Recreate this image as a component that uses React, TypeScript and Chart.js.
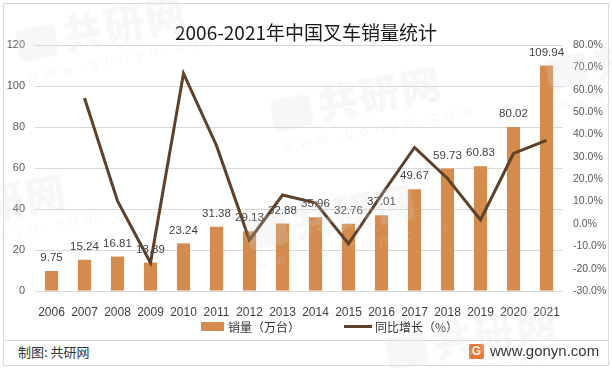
import React, { useEffect, useRef } from "react";
import { Chart, registerables } from "chart.js";
Chart.register(...registerables);

const years = ["2006", "2007", "2008", "2009", "2010", "2011", "2012", "2013", "2014", "2015", "2016", "2017", "2018", "2019", "2020", "2021"];
const sales = [9.75, 15.24, 16.81, 13.89, 23.24, 31.38, 29.13, 32.88, 35.96, 32.76, 37.01, 49.67, 59.73, 60.83, 80.02, 109.94];
const growth = [null, 56.3, 10.3, -17.4, 67.3, 35.0, -7.2, 12.9, 9.4, -8.9, 13.0, 34.2, 20.3, 1.8, 31.5, 37.4];
const leftTicks = { min: 0, max: 120, step: 20 };
const rightTicks = { min: -30, max: 80, step: 10 };

const BAR = "#D38B4E";
const LINE = "#5E4128";
const FONT = "'Noto Sans CJK SC', 'Liberation Sans', sans-serif";
const NUMFONT = "'Liberation Sans', 'DejaVu Sans', sans-serif";
const WM = "rgba(220,220,220,0.22)";

const watermarks = [
  { left: 10, top: 2 },
  { left: 265, top: 72 },
  { left: -110, top: 180 },
  { left: 240, top: 190 },
  { left: 380, top: 310 },
  { left: 540, top: 30 },
];

const labelPlugin = {
  id: "barLabels",
  afterDatasetDraw(chart: any, args: any) {
    const ds = chart.data.datasets[args.index];
    if (ds.type !== "bar") return;
    const ctx = chart.ctx;
    ctx.save();
    ctx.font = `11.5px ${NUMFONT}`;
    ctx.fillStyle = "#404040";
    ctx.textAlign = "center";
    ctx.textBaseline = "middle";
    args.meta.data.forEach((el: any, i: number) => {
      ctx.fillText(String(ds.data[i].toFixed(2)), el.x, el.y - 13);
    });
    ctx.restore();
  },
};

function Watermark({ left, top }: { left: number; top: number }) {
  return (
    <div style={{ position: "absolute", left, top, width: 190, height: 80, transform: "rotate(-11deg)", pointerEvents: "none", color: WM }}>
      <div style={{ position: "absolute", left: 55, top: 0, fontSize: 40, fontWeight: 900, lineHeight: "48px", fontFamily: FONT, letterSpacing: 2 }}>共研网</div>
      <div style={{ position: "absolute", left: 8, top: 12, width: 40, height: 32, borderRadius: 6, background: WM }} />
      <div style={{ position: "absolute", left: 12, top: 50, fontSize: 15, lineHeight: "18px", fontFamily: NUMFONT, letterSpacing: 7 }}>www.gonyn.com</div>
    </div>
  );
}

export default function App() {
  const ref = useRef<HTMLCanvasElement>(null);
  useEffect(() => {
    document.body.style.margin = "0";
    const chart = new Chart(ref.current!, {
      type: "bar",
      data: {
        labels: years,
        datasets: [
          {
            type: "line",
            label: "同比增长（%）",
            data: growth,
            yAxisID: "y1",
            borderColor: LINE,
            backgroundColor: LINE,
            borderWidth: 3,
            pointRadius: 0,
            tension: 0,
            order: 0,
          } as any,
          {
            type: "bar",
            label: "销量（万台）",
            data: sales,
            yAxisID: "y",
            backgroundColor: BAR,
            barPercentage: 0.4,
            categoryPercentage: 1,
            order: 1,
          } as any,
        ],
      },
      options: {
        animation: false,
        responsive: false,
        maintainAspectRatio: false,
        layout: { padding: { top: 45, bottom: 2, left: 0, right: 0 } },
        plugins: { legend: { display: false }, title: { display: false }, tooltip: { enabled: false } },
        scales: {
          x: {
            grid: { display: false },
            border: { display: false },
            ticks: { color: "#404040", font: { size: 12, family: NUMFONT }, padding: 6, maxRotation: 0, autoSkip: false },
            afterFit: (s: any) => { s.height = 37; },
          },
          y: {
            position: "left",
            min: leftTicks.min,
            max: leftTicks.max,
            ticks: { stepSize: leftTicks.step, color: "#595959", font: { size: 11, family: NUMFONT }, padding: 10 },
            grid: { color: "#d9d9d9", drawTicks: false },
            border: { display: false },
            afterFit: (s: any) => { s.width = 35; },
          },
          y1: {
            position: "right",
            min: rightTicks.min,
            max: rightTicks.max,
            ticks: {
              stepSize: rightTicks.step,
              color: "#595959",
              font: { size: 10.5, family: NUMFONT },
              padding: 10,
              callback: (v: any) => Number(v).toFixed(1) + "%",
            },
            grid: { display: false, drawTicks: false },
            border: { display: false },
            afterFit: (s: any) => { s.width = 49; },
          },
        },
      },
      plugins: [labelPlugin],
    });
    return () => chart.destroy();
  }, []);

  return (
    <div style={{ position: "fixed", left: 0, top: 0, width: 612, height: 368, background: "#fff", fontFamily: FONT, overflow: "hidden" }}>
      <div style={{ position: "absolute", left: 3, top: 3, width: 604, height: 361, border: "1px solid #d9d9d9" }} />
      <canvas ref={ref} width={612} height={330} style={{ position: "absolute", left: 0, top: 0, width: 612, height: 330 }} />
      <div style={{ position: "absolute", left: 0, top: 19, width: 612, textAlign: "center", fontSize: 19, lineHeight: "26px", color: "#1a1a1a" }}>
        2006-2021年中国叉车销量统计
      </div>
      <div style={{ position: "absolute", left: 201, top: 322, width: 23, height: 9, background: BAR }} />
      <div style={{ position: "absolute", left: 228, top: 318, fontSize: 12, lineHeight: "17px", color: "#333" }}>销量（万台）</div>
      <div style={{ position: "absolute", left: 344, top: 325, width: 28, height: 3, background: LINE }} />
      <div style={{ position: "absolute", left: 375, top: 318, fontSize: 12, lineHeight: "17px", color: "#333" }}>同比增长（%）</div>
      <div style={{ position: "absolute", left: 4, top: 340, width: 604, height: 1, background: "#d9d9d9" }} />
      <div style={{ position: "absolute", left: 18, top: 343, fontSize: 13, lineHeight: "18px", color: "#333" }}>制图: 共研网</div>
      <div style={{ position: "absolute", left: 469, top: 344, width: 15, height: 15, background: "#E9773A", borderRadius: 2, color: "#fff", fontFamily: NUMFONT, fontWeight: "bold", fontSize: 12, lineHeight: "15px", textAlign: "center" }}>G</div>
      <div style={{ position: "absolute", left: 490, top: 342, fontSize: 15, lineHeight: "18px", color: "#333", fontFamily: NUMFONT }}>www.gonyn.com</div>
      {watermarks.map((w, i) => (
        <Watermark key={i} left={w.left} top={w.top} />
      ))}
    </div>
  );
}
